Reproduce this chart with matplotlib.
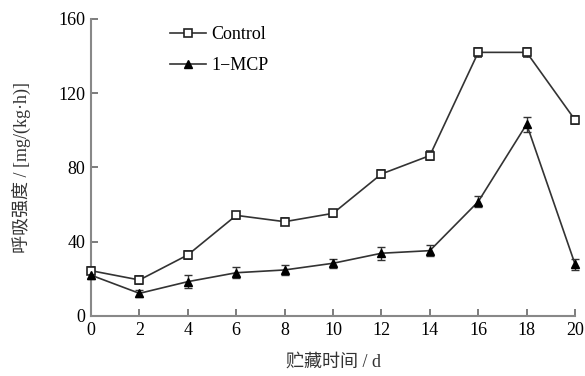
import matplotlib
matplotlib.use('Agg')
import matplotlib.pyplot as plt
import numpy as np

days = [0, 2, 4, 6, 8, 10, 12, 14, 16, 18, 20]
control = [24.4, 19.4, 32.9, 54.2, 50.8, 55.3, 76.5, 86.4, 142, 142, 105.6]
control_err = [2, 2, 2, 2, 2, 2, 2, 2.5, 2.5, 2.5, 2]
mcp = [22, 12.2, 18.5, 23.3, 24.8, 28.4, 33.8, 35.2, 61.6, 103.3, 27.9]
mcp_err = [2, 2, 3.5, 3, 2.5, 2.5, 3.5, 3, 3, 4, 3]
yticks = [0, 40, 80, 120, 160]
xticks = [0, 2, 4, 6, 8, 10, 12, 14, 16, 18, 20]

plt.rcParams['font.family'] = ['Liberation Serif', 'Noto Sans CJK SC']
plt.rcParams['font.size'] = 12

fig = plt.figure(figsize=(5.85, 3.76), dpi=100)
ax = fig.add_axes([0.1556, 0.1596, 0.8274, 0.79])

lc = '#333333'
c = ax.errorbar(days, control, yerr=control_err, color=lc, lw=1.2, marker='s', ms=5.5,
                mfc='white', mec='#222222', mew=1.2, capsize=3, elinewidth=1,
                clip_on=False, zorder=3)
m = ax.errorbar(days, mcp, yerr=mcp_err, color=lc, lw=1.2, marker='^', ms=5.5,
                mfc='black', mec='black', capsize=3, elinewidth=1,
                clip_on=False, zorder=3)

ax.set_xlim(0, 20)
ax.set_ylim(0, 160)
ax.set_xticks(xticks)
ax.set_yticks(yticks)
ax.spines['top'].set_visible(False)
ax.spines['right'].set_visible(False)
for s in ['left', 'bottom']:
    ax.spines[s].set_color('#888888')
    ax.spines[s].set_linewidth(1.5)
ax.tick_params(direction='in', length=5, width=1.2, color='#666666', labelsize=13, pad=4)

ax.set_xlabel('贮藏时间 / d', fontsize=13, labelpad=11, color='#333333',
              family=['Liberation Serif', 'Noto Sans CJK SC'])
ax.set_ylabel('呼吸强度 / [mg/(kg·h)]', fontsize=13, labelpad=20, color='#333333',
              family=['Liberation Serif', 'Noto Sans CJK SC'])

ax.legend([c[0], m[0]], ['Control', '1\u2212MCP'], loc='upper left',
          bbox_to_anchor=(0.13, 1.03), frameon=False,
          handlelength=2.0, handletextpad=0.3, labelspacing=0.75, fontsize=13)

fig.savefig('out.png', dpi=100)
